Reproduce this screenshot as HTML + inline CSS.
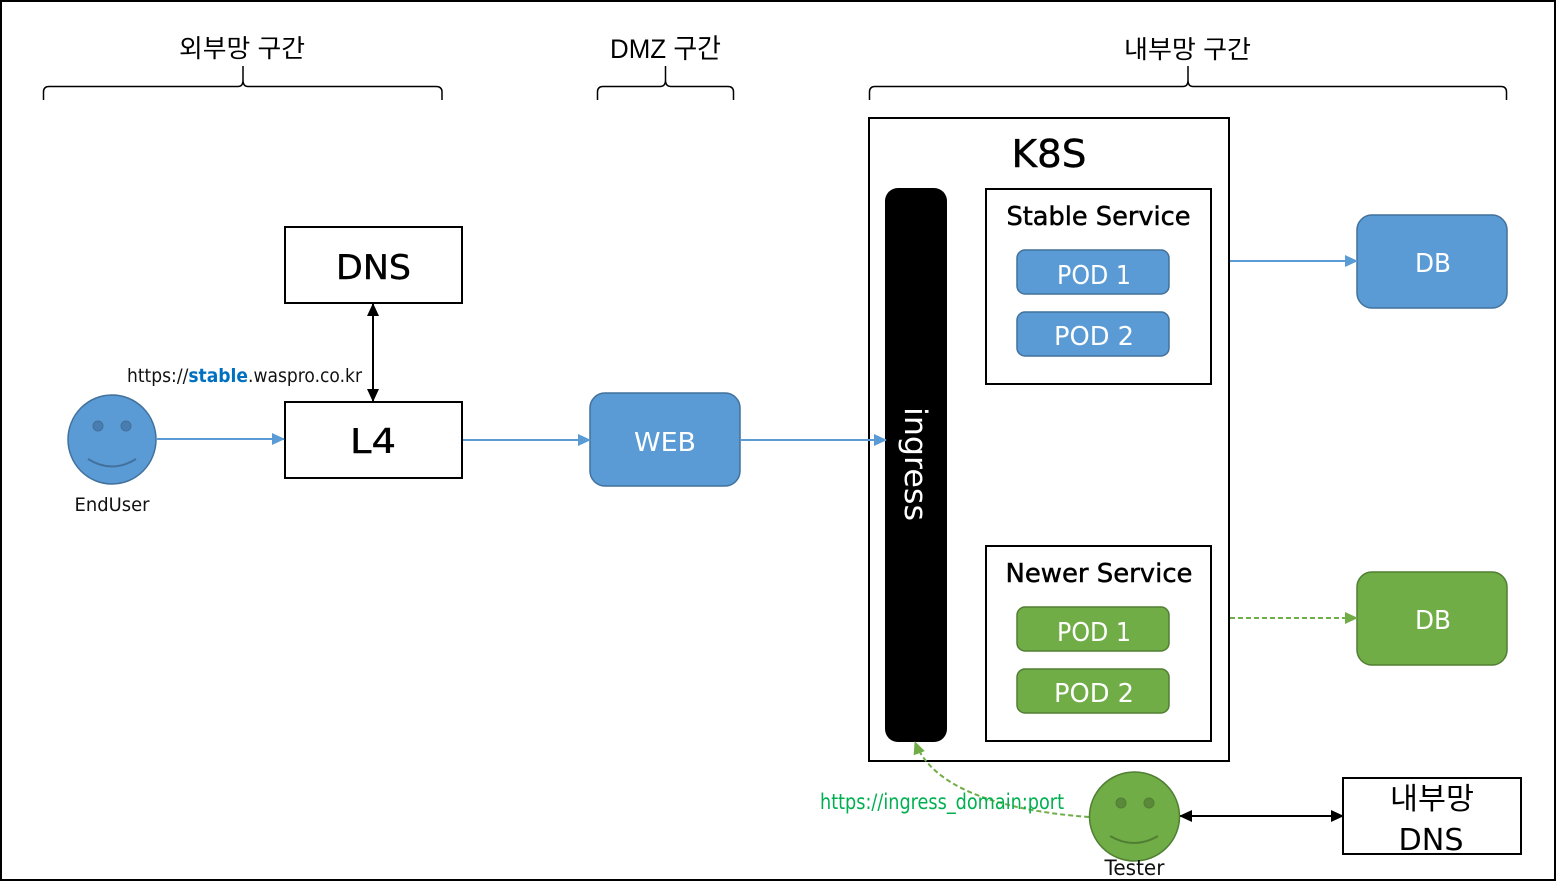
<!DOCTYPE html>
<html lang="ko"><head><meta charset="utf-8"><style>
html,body{margin:0;padding:0;background:#fff}
svg{display:block}
text{font-family:"DejaVu Sans","Noto Sans CJK KR",sans-serif}
.k{font-family:"Liberation Sans","Noto Sans CJK KR",sans-serif}
</style></head><body>
<svg width="1556" height="893" viewBox="0 0 1556 893" xmlns="http://www.w3.org/2000/svg">
<defs>
<marker id="b" markerWidth="13" markerHeight="12" refX="12" refY="6" orient="auto" markerUnits="userSpaceOnUse"><path d="M0 0L13 6L0 12Z" fill="#5b9bd5"/></marker>
<marker id="g" markerWidth="13" markerHeight="12" refX="12" refY="6" orient="auto" markerUnits="userSpaceOnUse"><path d="M0 0L13 6L0 12Z" fill="#70ad47"/></marker>
<marker id="k" markerWidth="13" markerHeight="12" refX="12" refY="6" orient="auto-start-reverse" markerUnits="userSpaceOnUse"><path d="M0 0L13 6L0 12Z" fill="#000"/></marker>
</defs>
<rect x="0" y="0" width="1556" height="893" fill="#fff"/>
<rect x="1" y="1" width="1554" height="879" fill="#fff" stroke="#000" stroke-width="2"/>

<!-- section labels -->
<text class="k" x="179" y="57" font-size="25" textLength="126" lengthAdjust="spacingAndGlyphs">외부망 구간</text>
<text class="k" x="610" y="58" font-size="27" textLength="111" lengthAdjust="spacingAndGlyphs">DMZ 구간</text>
<text class="k" x="1124" y="58" font-size="25" textLength="127" lengthAdjust="spacingAndGlyphs">내부망 구간</text>

<!-- braces -->
<g fill="none" stroke="#000" stroke-width="1.5">
<path d="M43.500 100V92Q43.500 86.500 49 86.500H238Q243 86.500 243 80V66Q243 80 243 80Q243 86.500 248 86.500H436Q442 86.500 442 92V100"/>
<path d="M597.500 100V92Q597.500 86.500 603 86.500H660Q665.500 86.500 665.500 80V66Q665.500 80 665.500 80Q665.500 86.500 671 86.500H728Q733.500 86.500 733.500 92V100"/>
<path d="M869.500 100V92Q869.500 86.500 875 86.500H1183Q1188 86.500 1188 80V66Q1188 80 1188 80Q1188 86.500 1193 86.500H1501Q1506.500 86.500 1506.500 92V100"/>
</g>

<!-- external boxes -->
<g fill="#fff" stroke="#000" stroke-width="2">
<rect x="285" y="227" width="177" height="76"/>
<rect x="285" y="402" width="177" height="76"/>
<rect x="1343" y="778" width="178" height="76"/>
</g>
<text x="373.500" y="279" font-size="34" text-anchor="middle" textLength="75" lengthAdjust="spacingAndGlyphs" stroke="#000" stroke-width=".4">DNS</text>
<text x="373" y="453" font-size="34" text-anchor="middle" textLength="46" lengthAdjust="spacingAndGlyphs" stroke="#000" stroke-width=".4">L4</text>
<text class="k" x="1432" y="809" font-size="30" text-anchor="middle" textLength="84" lengthAdjust="spacingAndGlyphs">내부망</text>
<text x="1431" y="850" font-size="30" text-anchor="middle" textLength="65" lengthAdjust="spacingAndGlyphs">DNS</text>

<!-- WEB -->
<rect x="590" y="393" width="150" height="93" rx="15" fill="#5b9bd5" stroke="#41719c" stroke-width="1.500"/>
<text x="665" y="451" font-size="26" fill="#fff" text-anchor="middle" textLength="62" lengthAdjust="spacingAndGlyphs">WEB</text>

<!-- K8S -->
<rect x="869" y="118" width="360" height="643" fill="#fff" stroke="#000" stroke-width="2"/>
<text x="1049" y="167" font-size="38" text-anchor="middle" textLength="75" lengthAdjust="spacingAndGlyphs" stroke="#000" stroke-width=".4">K8S</text>
<rect x="885" y="188" width="62" height="554" rx="13" fill="#000"/>
<text transform="translate(905,464) rotate(90)" font-size="31" fill="#fff" text-anchor="middle" textLength="114" lengthAdjust="spacingAndGlyphs">ingress</text>

<rect x="986" y="189" width="225" height="195" fill="#fff" stroke="#000" stroke-width="2"/>
<text x="1098.500" y="225" font-size="26" text-anchor="middle" textLength="184" lengthAdjust="spacingAndGlyphs" stroke="#000" stroke-width=".5">Stable Service</text>
<rect x="1017" y="250" width="152" height="44" rx="8" fill="#5b9bd5" stroke="#41719c" stroke-width="1.500"/>
<text x="1094" y="284" font-size="26" fill="#fff" text-anchor="middle" textLength="74" lengthAdjust="spacingAndGlyphs">POD 1</text>
<rect x="1017" y="312" width="152" height="44" rx="8" fill="#5b9bd5" stroke="#41719c" stroke-width="1.500"/>
<text x="1094" y="345" font-size="26" fill="#fff" text-anchor="middle" textLength="80" lengthAdjust="spacingAndGlyphs">POD 2</text>

<rect x="986" y="546" width="225" height="195" fill="#fff" stroke="#000" stroke-width="2"/>
<text x="1099" y="582" font-size="26" text-anchor="middle" textLength="187" lengthAdjust="spacingAndGlyphs" stroke="#000" stroke-width=".5">Newer Service</text>
<rect x="1017" y="607" width="152" height="44" rx="8" fill="#70ad47" stroke="#507e32" stroke-width="1.500"/>
<text x="1094" y="641" font-size="26" fill="#fff" text-anchor="middle" textLength="74" lengthAdjust="spacingAndGlyphs">POD 1</text>
<rect x="1017" y="669" width="152" height="44" rx="8" fill="#70ad47" stroke="#507e32" stroke-width="1.500"/>
<text x="1094" y="702" font-size="26" fill="#fff" text-anchor="middle" textLength="80" lengthAdjust="spacingAndGlyphs">POD 2</text>

<!-- DBs -->
<rect x="1357" y="215" width="150" height="93" rx="15" fill="#5b9bd5" stroke="#41719c" stroke-width="1.500"/>
<text x="1433" y="272" font-size="26" fill="#fff" text-anchor="middle" textLength="36" lengthAdjust="spacingAndGlyphs">DB</text>
<rect x="1357" y="572" width="150" height="93" rx="15" fill="#70ad47" stroke="#507e32" stroke-width="1.500"/>
<text x="1433" y="629" font-size="26" fill="#fff" text-anchor="middle" textLength="36" lengthAdjust="spacingAndGlyphs">DB</text>

<!-- connectors -->
<g fill="none" stroke-width="2">
<path d="M157 439H284" stroke="#5b9bd5" marker-end="url(#b)"/>
<path d="M463 440H590" stroke="#5b9bd5" marker-end="url(#b)"/>
<path d="M741 440H886" stroke="#5b9bd5" marker-end="url(#b)"/>
<path d="M1230 261H1357" stroke="#5b9bd5" marker-end="url(#b)"/>
<path d="M1230 618H1357" stroke="#70ad47" stroke-dasharray="5 3" marker-end="url(#g)"/>
<path d="M373 304V401" stroke="#000" marker-start="url(#k)" marker-end="url(#k)"/>
<path d="M1180 816H1343" stroke="#000" marker-start="url(#k)" marker-end="url(#k)"/>
<path d="M1089 817C1020 812 935 795 915 742" stroke="#70ad47" stroke-dasharray="5 3" marker-end="url(#g)"/>
</g>

<!-- EndUser -->
<ellipse cx="112" cy="439.500" rx="44" ry="44.500" fill="#5b9bd5" stroke="#41719c" stroke-width="1.500"/>
<circle cx="98" cy="426" r="5" fill="#497db0" stroke="#41719c"/>
<circle cx="126" cy="426" r="5" fill="#497db0" stroke="#41719c"/>
<path d="M88 459Q112 474 136 459" fill="none" stroke="#41719c" stroke-width="2"/>
<text x="112" y="511" font-size="19" fill="#111" text-anchor="middle" textLength="75" lengthAdjust="spacingAndGlyphs">EndUser</text>

<!-- Tester -->
<ellipse cx="1134.500" cy="816.500" rx="45" ry="44.500" fill="#70ad47" stroke="#507e32" stroke-width="1.500"/>
<ellipse cx="1121" cy="803" rx="5" ry="5" fill="#5a8a39" stroke="#507e32"/>
<ellipse cx="1149" cy="803" rx="5" ry="5" fill="#5a8a39" stroke="#507e32"/>
<path d="M1110 836Q1134 850 1158 836" fill="none" stroke="#507e32" stroke-width="2"/>
<text x="1134.500" y="875" font-size="21" fill="#111" text-anchor="middle" textLength="60" lengthAdjust="spacingAndGlyphs">Tester</text>

<!-- URL labels -->
<text x="127" y="382" font-size="19" fill="#111" textLength="235" lengthAdjust="spacingAndGlyphs">https://<tspan fill="#0070c0" font-weight="700">stable</tspan>.waspro.co.kr</text>
<text x="820" y="809" font-size="21" fill="#00b050" textLength="244" lengthAdjust="spacingAndGlyphs">https://ingress_domain:port</text>
</svg>
</body></html>
